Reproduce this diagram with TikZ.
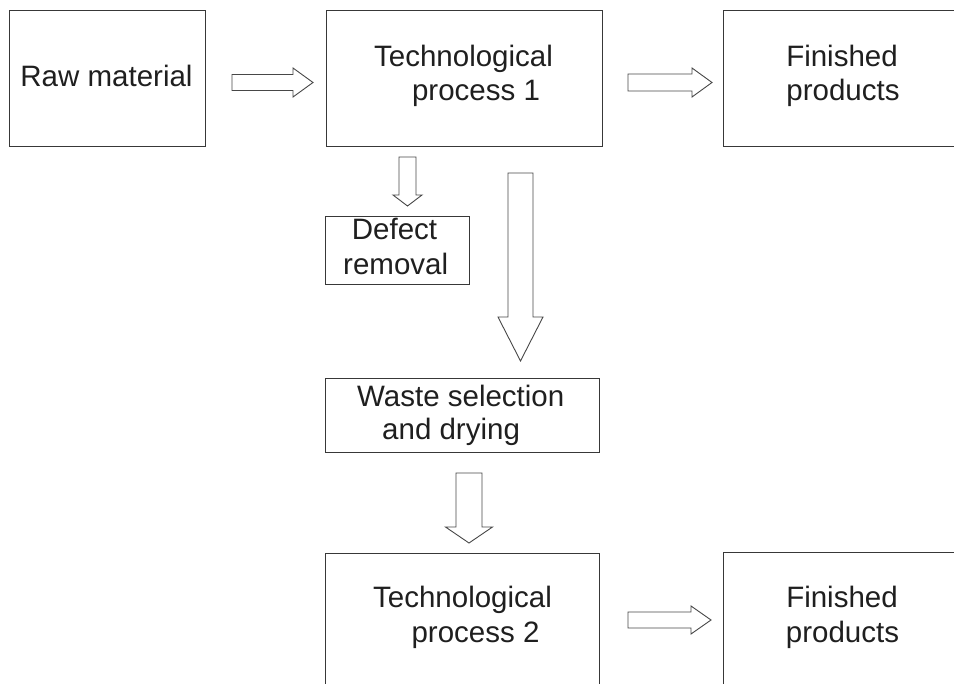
\documentclass[tikz,border=0pt]{standalone}
\usepackage{fontspec}
\setmainfont{Liberation Sans}
\usetikzlibrary{calc}
\newcommand\rightblock[5]{%
  \draw[barrow] ($(#1)+(0,-#3)$) -- ($(#2)+(-#5,-#3)$) -- ($(#2)+(-#5,-#4)$) -- (#2)
    -- ($(#2)+(-#5,#4)$) -- ($(#2)+(-#5,#3)$) -- ($(#1)+(0,#3)$) -- cycle;}
\newcommand\downblock[5]{%
  \draw[barrow] ($(#1)+(-#3,0)$) -- ($(#2)+(-#3,-#5)$) -- ($(#2)+(-#4,-#5)$) -- (#2)
    -- ($(#2)+(#4,-#5)$) -- ($(#2)+(#3,-#5)$) -- ($(#1)+(#3,0)$) -- cycle;}
\begin{document}
\begin{tikzpicture}[x=1pt,y=-1pt,
  box/.style={draw=black!78, line width=1.1pt, inner sep=0pt, anchor=north west},
  barrow/.style={draw=black!72, line width=0.9pt, fill=white, line join=miter},
  lbl/.style={anchor=base, inner sep=0pt, font=\fontsize{29.5}{34}\selectfont, text=black!88}]
\clip (0,0) rectangle (954,684);
\fill[white] (0,0) rectangle (954,684);
% boxes
\node[box, minimum width=196, minimum height=136] (raw) at (9,10) {};
\node[box, minimum width=276, minimum height=136] (tp1) at (326,10) {};
\node[box, minimum width=260, minimum height=136] (fin1) at (723,10) {};
\node[box, minimum width=144, minimum height=68] (defect) at (325,216) {};
\node[box, minimum width=274, minimum height=74] (waste) at (325,378) {};
\node[box, minimum width=274, minimum height=160] (tp2) at (325,553) {};
\node[box, minimum width=260, minimum height=160] (fin2) at (723,552) {};
% texts
\node[lbl] (rawT) at (106.5,87) {Raw material};
\node[lbl] (t1a) at (463.5,67) {Technological};
\node[lbl] (t1b) at (476,101) {process 1};
\node[lbl] (f1a) at (842,67) {Finished};
\node[lbl] (f1b) at (843,101) {products};
\node[lbl] (da) at (394.5,240) {Defect};
\node[lbl] (db) at (395.7,275) {removal};
\node[lbl, anchor=base west] (wa) at (357,407) {Waste selection};
\node[lbl, anchor=base west] (wb) at (382,440) {and drying};
\node[lbl] (t2a) at (462.5,607) {Technological};
\node[lbl] (t2b) at (475.5,642) {process 2};
\node[lbl] (f2a) at (842,608) {Finished};
\node[lbl] (f2b) at (842.5,642) {products};
% block arrows
\coordinate (a1s) at (232,82.5);   \coordinate (a1e) at (313,82.5);
\coordinate (a2s) at (628,82.5);   \coordinate (a2e) at (712,82.5);
\coordinate (a4s) at (628,620);    \coordinate (a4e) at (711,620);
\coordinate (d1s) at (407.5,157);  \coordinate (d1e) at (407.5,206);
\coordinate (d2s) at (520.5,173);  \coordinate (d2e) at (520.5,361);
\coordinate (d3s) at (469,473);    \coordinate (d3e) at (469,543);
\rightblock{a1s}{a1e}{8}{14.5}{20}
\rightblock{a2s}{a2e}{8.5}{14.5}{20}
\rightblock{a4s}{a4e}{8}{14}{20}
\downblock{d1s}{d1e}{8.5}{14.5}{11}
\downblock{d2s}{d2e}{12.5}{22.5}{44}
\downblock{d3s}{d3e}{13}{23.5}{16}
\end{tikzpicture}
\end{document}
